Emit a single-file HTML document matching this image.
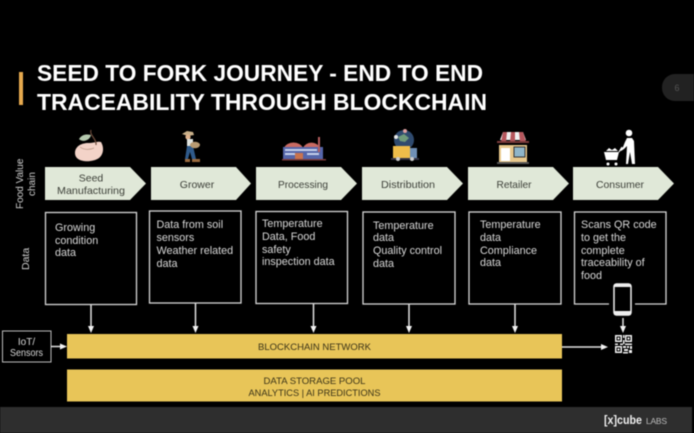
<!DOCTYPE html>
<html><head><meta charset="utf-8">
<style>
html,body{margin:0;padding:0;background:#000;width:694px;height:433px;overflow:hidden}
svg{display:block;filter:blur(.45px)}
text{font-family:"Liberation Sans",sans-serif}
.t{font-size:23.5px;font-weight:bold;fill:#fff}
.c{font-size:10.5px;fill:#3c3f38;text-anchor:middle}
.d{font-size:10.8px;fill:#d8d8d8}
.b{fill:none;stroke:#d6d6d6;stroke-width:1.3}
.l{stroke:#e2e2e2;stroke-width:1.5;fill:none}
.a{fill:#f2f2f2}
.g{font-size:9.6px;fill:#3a3318;text-anchor:middle}
</style></head><body>
<svg width="694" height="433" viewBox="0 0 694 433" xmlns="http://www.w3.org/2000/svg">
<rect width="694" height="433" fill="#000"/>
<rect x="19" y="72" width="4" height="33" fill="#e6a94e"/>
<text class="t" x="37" y="81" textLength="446" lengthAdjust="spacingAndGlyphs">SEED TO FORK JOURNEY - END TO END</text>
<text class="t" x="37" y="110" textLength="450" lengthAdjust="spacingAndGlyphs">TRACEABILITY THROUGH BLOCKCHAIN</text>
<path d="M694 74H675a13 13 0 0 0-13 13v1a13 13 0 0 0 13 13H694z" fill="#222"/>
<text x="677" y="91" font-size="9" fill="#555" text-anchor="middle">6</text>

<!-- seed icon -->
<path d="M75 153c0-7 7-10 13-10 6 0 10-2 13-1 3 5 3 12-2 16-7 5-24 5-24-5z" fill="#f3d3c8"/>
<path d="M80 147c4 3 10 3 14 1" stroke="#b98" fill="none" stroke-width=".7"/>
<path d="M79 139c3-5 8-5 12-4-1 5-8 8-12 4z" fill="#b5c9ae"/>
<path d="M91 130c-2 5 6 9 5 15" stroke="#6b4a3a" fill="none" stroke-width="1.2"/>
<!-- farmer icon -->
<path d="M182 134l5-3 6 1 1 3-6 1z" fill="#c9b08a"/>
<circle cx="188" cy="137" r="2.6" fill="#e0b48f"/>
<rect x="187" y="139" width="6" height="8" fill="#dfe3e0"/>
<path d="M187 146h6l3 13h-4l-2-7-2 7h-3z" fill="#2f5a8a"/>
<ellipse cx="195" cy="145" rx="5" ry="3.2" fill="#b79a72"/>
<path d="M185 159h5v3h-5zM192 159h8v3h-8z" fill="#9a6a3e"/>
<!-- factory icon -->
<path d="M284 148a10 8 0 0 1 19 0zM303 148a9 8 0 0 1 17 0z" fill="#c96a62"/>
<rect x="283" y="147" width="40" height="12" fill="#5566aa"/>
<rect x="318" y="137" width="2" height="15" fill="#b75f5f"/>
<path d="M285 149h32v2h-32zM285 153h10v2h-10zM307 153h12v2h-12z" fill="#c5d0ea"/>
<rect x="295" y="153" width="8" height="6" fill="#c9734e"/>
<rect x="282" y="159" width="44" height="1.500" fill="#7a3a3a"/>
<!-- distribution icon -->
<circle cx="404" cy="140" r="10" fill="#2f4a6e"/>
<path d="M398 137l6-3 5 4-4 4-5-1z" fill="#6f9a7a"/>
<circle cx="405" cy="131" r="2" fill="#e0a0a0"/>
<circle cx="396" cy="137" r="2" fill="#e8e8e8"/>
<rect x="393" y="146" width="17" height="12" fill="#efbd4a"/>
<rect x="410" y="148" width="7" height="10" fill="#6f8fb5"/>
<rect x="391" y="158" width="28" height="2" fill="#334"/>
<circle cx="398" cy="159" r="2" fill="#ccc"/><circle cx="412" cy="159" r="2" fill="#ccc"/>
<!-- shop icon -->
<rect x="499" y="145" width="28" height="17" fill="#e8c88c"/>
<path d="M500 140l3-8h20l3 8z" fill="#f0f0f0"/>
<path d="M503 132h4l-1 10h-5zM511 132h4v10h-5zM519 132h4l3 10h-6z" fill="#b5565c"/>
<rect x="497" y="141" width="32" height="2" fill="#7a3a3a"/>
<rect x="501" y="148" width="9" height="13" fill="#fff"/>
<rect x="514" y="147" width="11" height="10" fill="#8fb5c9" stroke="#333" stroke-width="1"/>
<rect x="497" y="162" width="32" height="2" fill="#555"/>
<!-- consumer icon -->
<circle cx="629" cy="133" r="3.300" fill="#fff"/>
<path d="M627 138h5l2 3 1 23h-3l-2-12-2 12h-2l1-18-3 3-3 2-1-1 3-3 2-5z" fill="#fff"/>
<path d="M604 152h15l-2 8h-11z" fill="#fff"/>
<path d="M606 151l3-3 3 2 3-2 3 3z" fill="#fff"/>
<path d="M619 152l3-5" stroke="#fff" stroke-width="1.200"/>
<circle cx="608" cy="164" r="1.500" fill="#fff"/><circle cx="616" cy="164" r="1.500" fill="#fff"/>

<!-- chevrons -->
<g fill="#e0e8d8">
<path d="M45 167H130L146 183.500 130 200H45z"/>
<path d="M151 167H236L251 183.500 236 200H151z"/>
<path d="M256 167H341L357 183.500 341 200H256z"/>
<path d="M362 167H447L463 183.500 447 200H362z"/>
<path d="M468 167H553L569 183.500 553 200H468z"/>
<path d="M573 167H658L674 183.500 658 200H573z"/>
</g>
<text class="c" x="91" y="181.500">Seed</text>
<text class="c" x="91" y="194" textLength="68" lengthAdjust="spacingAndGlyphs">Manufacturing</text>
<text class="c" x="197" y="188">Grower</text>
<text class="c" x="303" y="188" textLength="50" lengthAdjust="spacingAndGlyphs">Processing</text>
<text class="c" x="408" y="188" textLength="54" lengthAdjust="spacingAndGlyphs">Distribution</text>
<text class="c" x="514" y="188" textLength="35" lengthAdjust="spacingAndGlyphs">Retailer</text>
<text class="c" x="620" y="188" textLength="48" lengthAdjust="spacingAndGlyphs">Consumer</text>

<text transform="translate(23 209) rotate(-90)" font-size="10" fill="#cfcfcf">Food Value</text>
<text transform="translate(35 196) rotate(-90)" font-size="10" fill="#cfcfcf">chain</text>
<text transform="translate(29 270) rotate(-90)" font-size="10.500" fill="#cfcfcf">Data</text>

<!-- data boxes -->
<rect class="b" x="45.500" y="212.500" width="91" height="92"/>
<rect class="b" x="149.500" y="211" width="91.500" height="92"/>
<rect class="b" x="256" y="211.500" width="91.500" height="92"/>
<rect class="b" x="363" y="212" width="92" height="92"/>
<rect class="b" x="469" y="212" width="92" height="92"/>
<path class="b" d="M609 304H574.500V212H666V304H635"/>

<g class="d">
<text x="55" y="231">Growing</text><text x="55" y="244">condition</text><text x="55" y="256">data</text>
<text x="156.500" y="228">Data from soil</text><text x="156.500" y="241">sensors</text><text x="156.500" y="254">Weather related</text><text x="156.500" y="267">data</text>
<text x="262" y="227">Temperature</text><text x="262" y="240">Data, Food</text><text x="262" y="253">safety</text><text x="262" y="265">inspection data</text>
<text x="373" y="229">Temperature</text><text x="373" y="241">data</text><text x="373" y="254">Quality control</text><text x="373" y="267">data</text>
<text x="480" y="228">Temperature</text><text x="480" y="241">data</text><text x="480" y="254">Compliance</text><text x="480" y="266">data</text>
<text x="581" y="228">Scans QR code</text><text x="581" y="241">to get the</text><text x="581" y="254">complete</text><text x="581" y="266">traceability of</text><text x="581" y="279">food</text>
</g>

<!-- phone -->
<rect x="614" y="284" width="17" height="31" rx="2.500" fill="#000" stroke="#f0f0f0" stroke-width="1.500"/>
<rect x="614" y="284" width="17" height="3" fill="#eee"/>
<rect x="614" y="311" width="17" height="4" fill="#eee"/>

<!-- arrows down -->
<path class="l" d="M91 305V327M195.500 303V327M313.500 304V327M409 304V327M515 304V327M623 318V327"/>
<path class="a" d="M88 326h6L91 333zM192.500 326h6l-3 7zM310.500 326h6l-3 7zM406 326h6L409 333zM512 326h6L515 333zM620 326h6L623 333z"/>

<!-- bands -->
<rect x="67" y="334" width="495" height="24.500" fill="#e8c558"/>
<rect x="67" y="369.500" width="495" height="32" fill="#e8c558"/>
<text class="g" x="314.500" y="350" textLength="113" lengthAdjust="spacingAndGlyphs">BLOCKCHAIN NETWORK</text>
<text class="g" x="314.500" y="384" textLength="102" lengthAdjust="spacingAndGlyphs">DATA STORAGE POOL</text>
<text class="g" x="314.500" y="396" textLength="132" lengthAdjust="spacingAndGlyphs">ANALYTICS | AI PREDICTIONS</text>

<!-- IoT -->
<rect x="2.500" y="331" width="48.500" height="31" fill="#000" stroke="#bcbcbc" stroke-width="1"/>
<text x="26.500" y="345" font-size="10" fill="#d8d8d8" text-anchor="middle">IoT/</text>
<text x="26.500" y="356" font-size="10" fill="#d8d8d8" text-anchor="middle" textLength="33" lengthAdjust="spacingAndGlyphs">Sensors</text>
<path class="l" d="M51 346.500H61"/>
<path class="a" d="M60 343.500l7 3-7 3z"/>
<path class="l" d="M562 347H602"/>
<path class="a" d="M601 344l7 3-7 3z"/>

<!-- QR -->
<g fill="#f0f0f0">
<path fill-rule="evenodd" d="M615 335h7v7h-7zM616.500 336.500v4h4v-4zM625 335h7v7h-7zM626.500 336.500v4h4v-4zM615 346h7v7h-7zM616.500 347.500v4h4v-4z"/>
<rect x="617.500" y="337.500" width="2" height="2"/><rect x="627.500" y="337.500" width="2" height="2"/><rect x="617.500" y="348.500" width="2" height="2"/>
<path d="M623 335h1.500v3h-1.500zM623 340h1.500v4h-1.500zM615 343.500h3v1.500h-3zM620 343.500h3v1.500h-3zM625 343.500h7v1.500h-7zM623 346h3v2h-3zM627 346h2v2h-2zM630 346h2v3h-2zM624 349h4v2h-4zM629 350h3v3h-3zM623 352h5v1.500h-5z"/>
</g>

<!-- footer -->
<rect x="0" y="407" width="692" height="26" fill="#2e2e2e"/>
<text x="604" y="424" font-size="12" font-weight="bold" fill="#f0f0f0" textLength="38" lengthAdjust="spacingAndGlyphs">[x]cube</text>
<text x="646" y="424" font-size="8.500" fill="#bdbdbd" textLength="21">LABS</text>
</svg>
</body></html>
